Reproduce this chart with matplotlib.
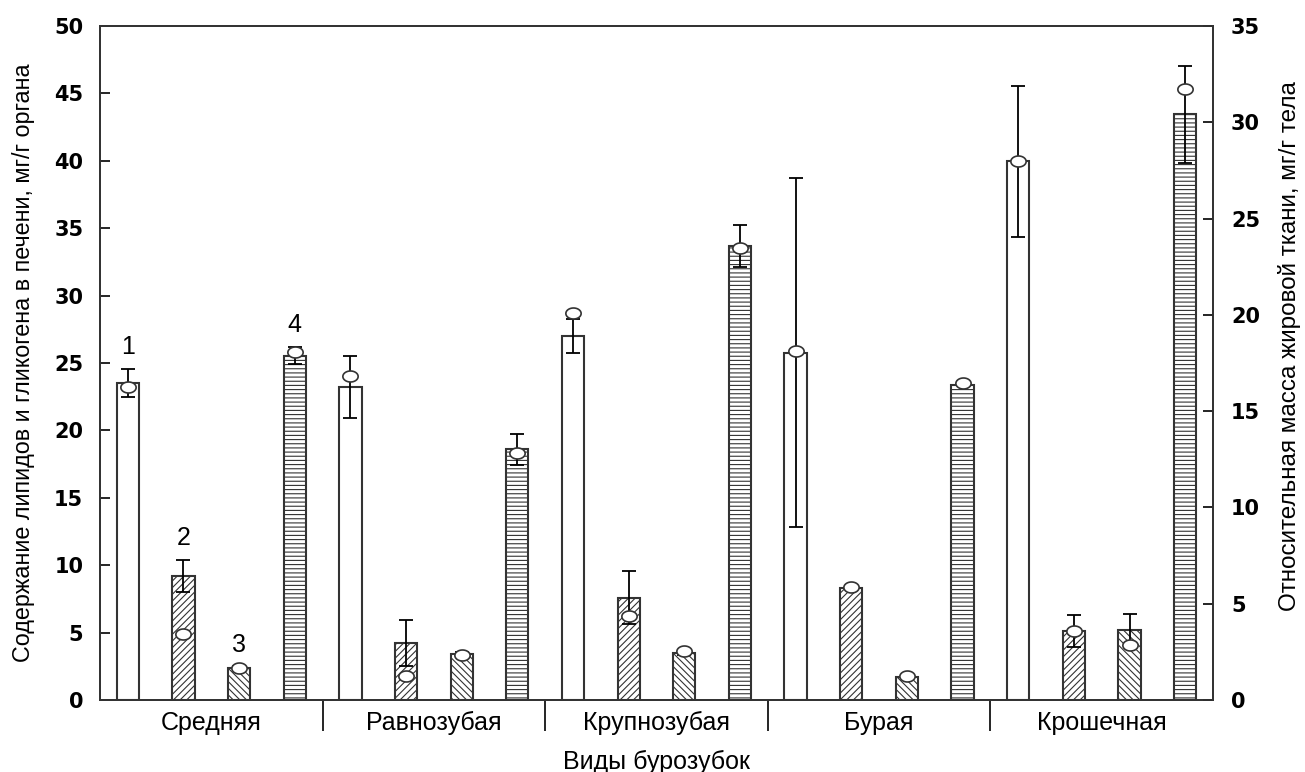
import matplotlib.pyplot as plt
import numpy as np
from matplotlib.path import Path

plt.rcParams['hatch.linewidth'] = 0.8

# Виды бурозубок
SPECIES = ["Средняя", "Равнозубая", "Крупнозубая", "Бурая", "Крошечная"]
BAR_NUMBERS = ["1", "2", "3", "4"]

# bar heights, their errors and the open-circle points for series 1..4
s1 = [23.5, 23.2, 27.0, 25.75, 39.95]
s1_err = [1.05, 2.3, 1.25, 12.95, 5.6]
s1_pts = [23.2, 24.05, 28.7, 25.9, 40.0]

s2 = [9.2, 4.2, 7.6, 8.3, 5.1]
s2_err = [1.2, 1.7, 2.0, 0.0, 1.2]
s2_pts = [4.9, 1.8, 6.2, 8.4, 5.1]

s3 = [2.4, 3.4, 3.5, 1.7, 5.2]
s3_err = [0.1, 0.15, 0.15, 0.0, 1.2]
s3_pts = [2.4, 3.3, 3.6, 1.75, 4.1]

s4 = [25.55, 18.6, 33.7, 23.4, 43.45]
s4_err = [0.65, 1.15, 1.55, 0.0, 3.6]
s4_pts = [25.8, 18.3, 33.55, 23.55, 45.35]

LEFT_TICKS = list(range(0, 51, 5))
RIGHT_TICKS = list(range(0, 36, 5))

series = [(s1, s1_err, s1_pts, ""), (s2, s2_err, s2_pts, "/////"),
          (s3, s3_err, s3_pts, "\\\\\\\\\\"), (s4, s4_err, s4_pts, "----")]

EDGE = "#333333"
tick_font = dict(family="DejaVu Sans", weight="bold", size=15)
label_font = dict(family="Liberation Sans", size=18)

# flattened ellipse used as point marker
t = np.linspace(0, 2 * np.pi, 60)
ellipse = Path(np.column_stack([np.cos(t), 0.72 * np.sin(t)]), closed=True)

fig = plt.figure(figsize=(13.05, 7.72), dpi=100)
ax = fig.add_axes([0.0766, 0.0933, 0.8529, 0.8731])

n_groups = len(SPECIES)
group_x = np.arange(n_groups) * 4
for i, (vals, err, pts, hatch) in enumerate(series):
    x = group_x + i + 0.5
    ax.bar(x, vals, width=0.4, color="white", edgecolor=EDGE, linewidth=1.5,
           hatch=hatch, zorder=2)
    err = np.asarray(err)
    m = err > 0
    ax.errorbar(x[m], np.asarray(vals)[m], yerr=err[m], fmt="none", ecolor="black",
                elinewidth=1.3, capsize=5, capthick=1.3, zorder=3)
    ax.plot(x, pts, linestyle="none", marker=ellipse, markersize=11,
            markerfacecolor="white", markeredgecolor=EDGE, markeredgewidth=1.2, zorder=4)
    # number the bars of the first group
    top = vals[0] + err[0]
    ax.annotate(BAR_NUMBERS[i], (x[0], top), xytext=(0, 7), textcoords="offset points",
                ha="center", va="bottom", family="Liberation Sans", size=18)

ax.set_xlim(0, 4 * n_groups)
ax.set_ylim(0, 50)
ax.set_yticks(LEFT_TICKS)
ax.set_yticklabels([str(v) for v in LEFT_TICKS], **tick_font)
ax.tick_params(axis="y", direction="in", length=7, width=1.2, pad=12)

# group separators below the axis, species names between them
ax.set_xticks(group_x[1:])
ax.set_xticklabels([])
ax.tick_params(axis="x", which="major", direction="out", length=22, width=1.2)
ax.set_xticks(group_x + 2, minor=True)
ax.set_xticklabels(SPECIES, minor=True, **label_font)
ax.tick_params(axis="x", which="minor", length=0, pad=8)

for sp in ax.spines.values():
    sp.set_linewidth(1.3)
    sp.set_color(EDGE)

ax.set_xlabel("Виды бурозубок", **label_font)
ax.xaxis.label.set_va("center")
ax.xaxis.set_label_coords(0.5, -0.092)
ax.set_ylabel("Содержание липидов и гликогена в печени, мг/г органа",
              family="Liberation Sans", size=16.8)
ax.yaxis.label.set_va("center")
ax.yaxis.set_label_coords(-0.069, 0.5)

ax2 = ax.twinx()
ax2.set_ylim(0, 35)
ax2.set_yticks(RIGHT_TICKS)
ax2.set_yticklabels([str(v) for v in RIGHT_TICKS], **tick_font)
ax2.tick_params(axis="y", direction="in", length=7, width=1.2, pad=13)
for sp in ax2.spines.values():
    sp.set_linewidth(1.3)
    sp.set_color(EDGE)
ax2.set_ylabel("Относительная масса жировой ткани, мг/г тела",
               family="Liberation Sans", size=17.5)
ax2.yaxis.label.set_va("center")
ax2.yaxis.set_label_coords(1.069, 0.525)

fig.savefig("out.png", dpi=100)
